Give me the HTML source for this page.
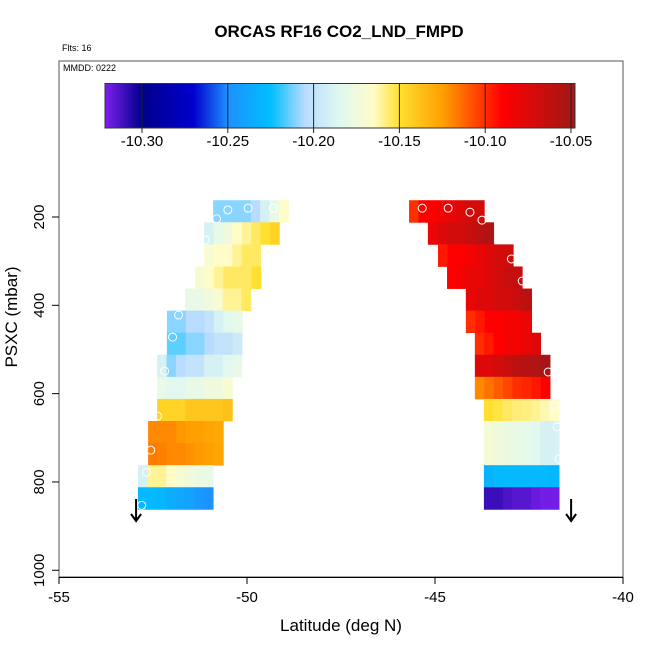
<!DOCTYPE html>
<html><head><meta charset="utf-8"><style>
body{margin:0;background:#fff;font-family:"Liberation Sans",Arial,sans-serif}
svg text{font-family:"Liberation Sans",Arial,sans-serif}
</style></head><body>
<svg id="c" width="650" height="650" xmlns="http://www.w3.org/2000/svg">
<rect width="650" height="650" fill="#fff"/>
<text x="339" y="37" text-anchor="middle" font-size="17" font-weight="bold">ORCAS RF16 CO2_LND_FMPD</text>
<text x="62" y="51" font-size="9">Flts: 16</text>
<text x="63" y="71" font-size="9">MMDD: 0222</text>
<text x="341" y="631" text-anchor="middle" font-size="17">Latitude (deg N)</text>
<text transform="translate(17,317) rotate(-90)" text-anchor="middle" font-size="17">PSXC (mbar)</text>
<g id="cells"></g><g id="pts"></g><g id="axes"></g><g id="cbar"></g>
</svg>
<script>
// ---- data ----
const rowTopP=[162,212,262,312,362,412,462,512,562,612,662,712,762,812];
const leftStart=[-50.90,-51.14,-51.14,-51.38,-51.65,-52.13,-52.13,-52.39,-52.39,-52.39,-52.63,-52.63,-52.90,-52.90];
const leftVals=[
[-10.21,-10.21,-10.21,-10.21,-10.205,-10.19,-10.18,-10.165],
[-10.19,-10.18,-10.175,-10.165,-10.16,-10.155,-10.15,-10.145],
[-10.17,-10.165,-10.165,-10.16,-10.155,-10.155],
[-10.17,-10.165,-10.16,-10.155,-10.155,-10.155,-10.15],
[-10.18,-10.18,-10.175,-10.17,-10.16,-10.16,-10.155],
[-10.21,-10.21,-10.205,-10.205,-10.2,-10.19,-10.185,-10.18],
[-10.215,-10.215,-10.21,-10.21,-10.205,-10.2,-10.2,-10.195],
[-10.19,-10.21,-10.205,-10.2,-10.2,-10.19,-10.19,-10.185,-10.18],
[-10.18,-10.185,-10.185,-10.18,-10.18,-10.175,-10.175,-10.17],
[-10.145,-10.145,-10.145,-10.14,-10.14,-10.14,-10.14,-10.138],
[-10.12,-10.12,-10.12,-10.123,-10.125,-10.125,-10.127,-10.128],
[-10.117,-10.118,-10.12,-10.12,-10.122,-10.124,-10.125,-10.127],
[-10.19,-10.16,-10.16,-10.165,-10.17,-10.175,-10.178,-10.18],
[-10.228,-10.228,-10.23,-10.235,-10.238,-10.24,-10.245,-10.248]];
const rightStart=[-45.69,-45.19,-44.92,-44.68,-44.18,-44.18,-43.94,-43.94,-43.94,-43.70,-43.70,-43.70,-43.70,-43.70];
const rightVals=[
[-10.10,-10.09,-10.09,-10.085,-10.08,-10.075,-10.07,-10.07],
[-10.08,-10.075,-10.07,-10.07,-10.065,-10.06,-10.055],
[-10.095,-10.09,-10.09,-10.085,-10.08,-10.075,-10.07,-10.07],
[-10.09,-10.085,-10.08,-10.08,-10.075,-10.07,-10.065,-10.065],
[-10.08,-10.075,-10.075,-10.07,-10.07,-10.065,-10.06],
[-10.1,-10.095,-10.09,-10.09,-10.085,-10.085,-10.08],
[-10.1,-10.095,-10.09,-10.085,-10.085,-10.08,-10.075],
[-10.075,-10.075,-10.07,-10.065,-10.06,-10.058,-10.055,-10.05],
[-10.12,-10.115,-10.11,-10.105,-10.1,-10.098,-10.095,-10.09],
[-10.15,-10.152,-10.155,-10.157,-10.158,-10.16,-10.163,-10.165],
[-10.172,-10.175,-10.178,-10.18,-10.182,-10.185,-10.19,-10.19],
[-10.172,-10.175,-10.178,-10.18,-10.182,-10.185,-10.19,-10.19],
[-10.232,-10.228,-10.228,-10.228,-10.228,-10.228,-10.228,-10.23],
[-10.31,-10.31,-10.313,-10.315,-10.315,-10.318,-10.32,-10.32]];
const ptLat=[-50.51,-49.97,-49.30,-50.81,-51.11,-51.82,-51.98,-52.19,-52.38,-52.56,-52.67,-52.80,-45.34,-44.65,-44.07,-43.75,-42.97,-42.68,-41.99,-41.83,-41.75,-41.70];
const ptP=[184,180,180,204,252,422,472,549,651,728,778,853,180,180,189,207,295,345,551,628,675,748];
const arrowLat=[-52.95,-41.38];
const xTicks=[-55,-50,-45,-40];
const yTicks=[200,400,600,800,1000];
const cbTicks=[-10.30,-10.25,-10.20,-10.15,-10.10,-10.05];
const cbStops=[-10.322,-10.30,-10.27,-10.25,-10.225,-10.205,-10.185,-10.165,-10.15,-10.125,-10.09,-10.048];
const cbCols=["#8020f0","#00008b","#0000cd","#1e90ff","#00bfff","#b8dcff","#e0f8f0","#fffcc8","#ffe030","#ffa000","#ff0000","#a01818"];
// ---- scales ----
const X=l=>59+(l+55)*37.6;
const Y=p=>217+(p-200)*0.4416;
const CB=v=>142+(v+10.30)/0.05*85.8;
const NS="http://www.w3.org/2000/svg";
function mk(t,a,parent){const e=document.createElementNS(NS,t);for(const k in a)e.setAttribute(k,a[k]);parent.appendChild(e);return e;}
function hex(h){return [1,3,5].map(i=>parseInt(h.substr(i,2),16));}
function col(v){if(v<=cbStops[0])return cbCols[0];for(let i=1;i<cbStops.length;i++){if(v<=cbStops[i]){const t=(v-cbStops[i-1])/(cbStops[i]-cbStops[i-1]);const a=hex(cbCols[i-1]),b=hex(cbCols[i]);return "rgb("+a.map((x,j)=>Math.round(x+(b[j]-x)*t)).join(",")+")";}}return cbCols[cbCols.length-1];}
const cells=document.getElementById('cells');
function curtain(starts,vals,side){
 vals.forEach((row,r)=>{row.forEach((v,c)=>{
  const x0=X(starts[r]+c*0.25),x1=X(starts[r]+(c+1)*0.25);
  const el=mk('rect',{x:x0.toFixed(2),y:Y(rowTopP[r]).toFixed(2),width:(x1-x0+0.4).toFixed(2),height:(Y(rowTopP[r]+50)-Y(rowTopP[r])+0.4).toFixed(2),fill:col(v)},cells);
  
  
 });});
}
curtain(leftStart,leftVals,'south');
curtain(rightStart,rightVals,'north');
const pts=document.getElementById('pts');
ptLat.forEach((l,i)=>{const e=mk('circle',{cx:X(l),cy:Y(ptP[i]),r:4,fill:'none',stroke:'#fff','stroke-width':1},pts);
 
 });
arrowLat.forEach(l=>{const g=mk('g',{stroke:'#000','stroke-width':2,fill:'none'},pts);
 
 
 const x=X(l);mk('path',{d:`M${x} 499 L${x} 521 M${x-5} 514 L${x} 521 L${x+5} 514`},g);});
const ax=document.getElementById('axes');
const box=mk('rect',{x:59,y:61,width:564,height:516,fill:'none',stroke:'#555','stroke-width':1},ax);


mk('line',{x1:59,x2:623,y1:577.5,y2:577.5,stroke:'#000'},ax);
xTicks.forEach(t=>{const x=X(t);mk('line',{x1:x,x2:x,y1:577,y2:584,stroke:'#000'},ax);
 const e=mk('text',{x:x,y:602,'text-anchor':'middle','font-size':15},ax);e.textContent=t;
 
 });
yTicks.forEach(t=>{const y=Y(t);mk('line',{x1:52,x2:59,y1:y,y2:y,stroke:'#000'},ax);
 const e=mk('text',{transform:`translate(44,${y}) rotate(-90)`,'text-anchor':'middle','font-size':15},ax);e.textContent=t;
 
 });
const cb=document.getElementById('cbar');
const gr=mk('linearGradient',{id:'g',x1:CB(cbStops[0]),x2:CB(cbStops[cbStops.length-1]),y1:0,y2:0,gradientUnits:'userSpaceOnUse'},mk('defs',{},cb));
cbStops.forEach((s,i)=>mk('stop',{offset:((CB(s)-CB(cbStops[0]))/(CB(cbStops[cbStops.length-1])-CB(cbStops[0]))).toFixed(4),'stop-color':cbCols[i]},gr));
const bar=mk('rect',{x:105,y:83.5,width:470,height:44.5,fill:'url(#g)',stroke:'#333'},cb);


cbTicks.forEach(t=>{const x=CB(t);mk('line',{x1:x,x2:x,y1:83.5,y2:133,stroke:'#222','stroke-width':1},cb);
 const e=mk('text',{x:x,y:146,'text-anchor':'middle','font-size':15},cb);e.textContent=t.toFixed(2);
 
 });
</script>
</body></html>
